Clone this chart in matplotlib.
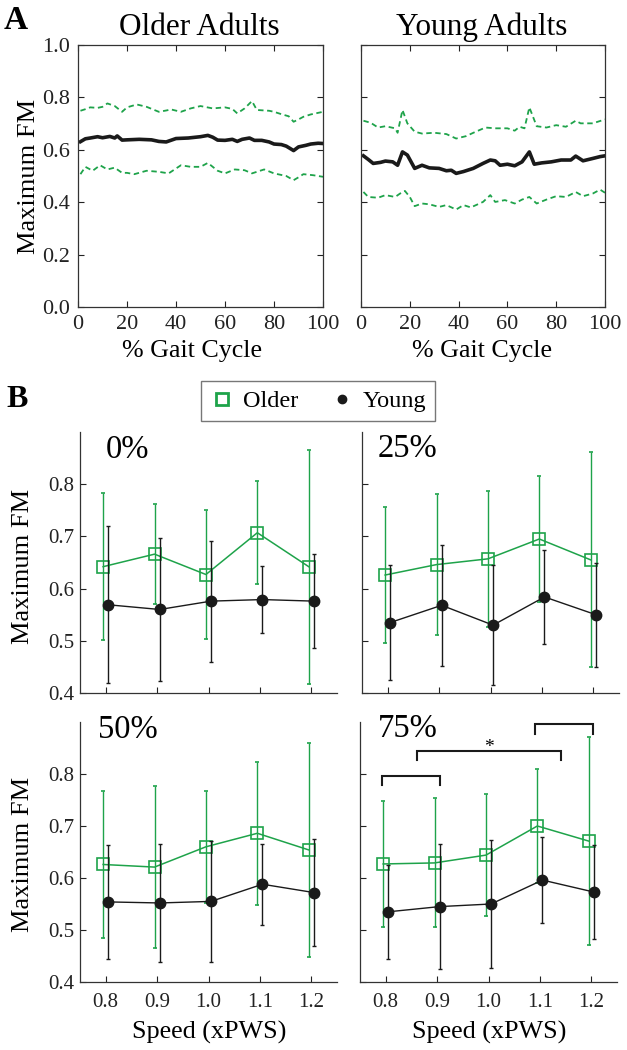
import matplotlib
matplotlib.use('Agg')
import matplotlib.pyplot as plt
from matplotlib.lines import Line2D
import numpy as np

plt.rcParams['font.family'] = ['Liberation Serif', 'DejaVu Serif']

GREEN = '#1ea34a'
DARK = '#1a1a1a'

# ---------- Panel A: maximum FM over the gait cycle ----------
old_mean_x = [1, 3, 5, 8, 10, 13, 15, 16, 18, 20, 25, 30, 33, 36, 40, 45, 50, 53, 55, 57,
              60, 63, 65, 67, 70, 72, 75, 78, 80, 83, 85, 88, 90, 93, 95, 98, 100]
old_mean = [0.631, 0.642, 0.645, 0.650, 0.646, 0.651, 0.645, 0.653, 0.637, 0.638, 0.640, 0.638,
            0.632, 0.630, 0.643, 0.645, 0.650, 0.655, 0.648, 0.637, 0.636, 0.640, 0.632, 0.640,
            0.645, 0.636, 0.636, 0.630, 0.622, 0.620, 0.614, 0.597, 0.611, 0.617, 0.622, 0.625, 0.624]

old_up_x = [1, 3, 5, 8, 10, 12, 15, 18, 20, 24, 28, 33, 36, 38, 42, 46, 50, 55, 60, 63, 65, 68,
            71, 73, 78, 80, 83, 86, 88, 90, 92, 95, 97, 100]
old_up = [0.749, 0.755, 0.762, 0.760, 0.764, 0.777, 0.767, 0.745, 0.762, 0.773, 0.764, 0.745,
          0.750, 0.754, 0.745, 0.758, 0.767, 0.758, 0.762, 0.756, 0.739, 0.758, 0.786, 0.752,
          0.749, 0.745, 0.736, 0.728, 0.707, 0.716, 0.726, 0.735, 0.739, 0.745]

old_lo_x = [1, 3, 6, 9, 12, 15, 16, 18, 20, 23, 28, 33, 37, 42, 46, 50, 53, 57, 60, 64, 68,
            71, 76, 80, 85, 88, 90, 92, 96, 100]
old_lo = [0.507, 0.535, 0.520, 0.541, 0.525, 0.532, 0.525, 0.512, 0.512, 0.507, 0.520, 0.516,
          0.510, 0.541, 0.535, 0.535, 0.550, 0.520, 0.510, 0.525, 0.522, 0.510, 0.525, 0.510,
          0.500, 0.484, 0.495, 0.507, 0.503, 0.497]

young_mean_x = [1, 3, 5, 8, 10, 13, 15, 17, 19, 22, 25, 28, 32, 35, 37, 39, 42, 46, 50, 53,
                55, 57, 60, 63, 66, 69, 71, 74, 78, 82, 86, 88, 91, 95, 98, 100]
young_mean = [0.577, 0.563, 0.548, 0.552, 0.557, 0.554, 0.541, 0.592, 0.580, 0.529, 0.541,
              0.531, 0.529, 0.520, 0.522, 0.510, 0.517, 0.529, 0.548, 0.561, 0.558, 0.541,
              0.545, 0.539, 0.554, 0.592, 0.545, 0.550, 0.554, 0.561, 0.561, 0.576, 0.558,
              0.567, 0.574, 0.577]

young_up_x = [1, 4, 7, 10, 14, 15, 17, 19, 22, 25, 30, 35, 39, 43, 47, 51, 55, 60, 63, 65, 67,
              69, 72, 76, 80, 84, 88, 90, 95, 100]
young_up = [0.711, 0.703, 0.685, 0.690, 0.682, 0.665, 0.752, 0.701, 0.669, 0.662, 0.665, 0.660,
            0.643, 0.652, 0.669, 0.685, 0.682, 0.682, 0.673, 0.688, 0.682, 0.762, 0.690, 0.685,
            0.694, 0.688, 0.711, 0.701, 0.701, 0.716]

young_lo_x = [1, 3, 7, 10, 14, 16, 18, 20, 22, 25, 28, 32, 35, 39, 42, 45, 50, 53, 55, 59, 63,
              66, 69, 72, 76, 80, 84, 88, 91, 95, 98, 100]
young_lo = [0.439, 0.420, 0.417, 0.427, 0.420, 0.433, 0.443, 0.420, 0.385, 0.395, 0.392, 0.382,
            0.389, 0.372, 0.389, 0.380, 0.401, 0.427, 0.401, 0.408, 0.395, 0.410, 0.420, 0.395,
            0.410, 0.423, 0.420, 0.439, 0.423, 0.433, 0.448, 0.436]

# ---------- Panel B: maximum FM vs walking speed ----------
speeds = np.array([0.8, 0.9, 1.0, 1.1, 1.2])
phases = ['0%', '25%', '50%', '75%']

older_fm = [
    [0.642, 0.666, 0.627, 0.707, 0.642],
    [0.626, 0.646, 0.657, 0.695, 0.655],
    [0.626, 0.621, 0.660, 0.686, 0.654],
    [0.627, 0.629, 0.644, 0.700, 0.671],
]
older_fm_sd = [
    [0.141, 0.096, 0.123, 0.099, 0.224],
    [0.130, 0.135, 0.130, 0.120, 0.206],
    [0.141, 0.156, 0.108, 0.138, 0.205],
    [0.122, 0.124, 0.118, 0.110, 0.200],
]
young_fm = [
    [0.569, 0.560, 0.576, 0.579, 0.576],
    [0.535, 0.568, 0.530, 0.584, 0.550],
    [0.554, 0.552, 0.555, 0.588, 0.572],
    [0.535, 0.545, 0.550, 0.596, 0.573],
]
young_fm_sd = [
    [0.150, 0.137, 0.116, 0.065, 0.090],
    [0.111, 0.116, 0.115, 0.090, 0.100],
    [0.110, 0.113, 0.116, 0.078, 0.103],
    [0.090, 0.120, 0.124, 0.083, 0.090],
]

W, H = 627, 1050
fig = plt.figure(figsize=(W / 100, H / 100), dpi=100)


def box(x0, y0, x1, y1):
    # pixel box -> figure fraction
    return [x0 / W, 1 - y1 / H, (x1 - x0) / W, (y1 - y0) / H]


def ftext(x, y, s, **kw):
    fig.text(x / W, 1 - y / H, s, **kw)


# Panel A axes
axA1 = fig.add_axes(box(78, 45, 323, 307))
axA2 = fig.add_axes(box(361, 45, 605, 307))
groups = [
    (axA1, old_mean_x, old_mean, old_up_x, old_up, old_lo_x, old_lo),
    (axA2, young_mean_x, young_mean, young_up_x, young_up, young_lo_x, young_lo),
]
for ax, mx, my, ux, uy, lx, ly in groups:
    ax.plot(ux, uy, color=GREEN, lw=1.3, dashes=(3, 2))
    ax.plot(lx, ly, color=GREEN, lw=1.3, dashes=(3, 2))
    ax.plot(mx, my, color=DARK, lw=2.6)
    ax.set_xlim(0, 100)
    ax.set_ylim(0, 1.0)
    ax.set_xticks([0, 20, 40, 60, 80, 100])
    ax.set_yticks([0.0, 0.2, 0.4, 0.6, 0.8, 1.0])
    ax.yaxis.set_major_formatter(plt.FormatStrFormatter('%.1f'))
    ax.tick_params(direction='in', top=True, right=True, length=4, width=0.8,
                   labelsize=16, pad=6, colors='#222222')
    for sp in ax.spines.values():
        sp.set_linewidth(0.9)
        sp.set_color('#333333')
axA2.set_yticklabels([])

ftext(199, 35, 'Older Adults', fontsize=22.5, ha='center', va='baseline')
ftext(482, 35, 'Young Adults', fontsize=22.5, ha='center', va='baseline')
ftext(29, 176, 'Maximum FM', fontsize=19, rotation=90, ha='center', va='center')
ftext(192, 351, '% Gait Cycle', fontsize=18.7, ha='center', va='center')
ftext(482, 351, '% Gait Cycle', fontsize=18.7, ha='center', va='center')
ftext(4, 29, 'A', fontsize=24, fontweight='bold', ha='left', va='baseline')

# Panel B axes
boxesB = [box(80, 432, 337, 693), box(362, 432, 619, 693),
          box(80, 722, 337, 982), box(360, 722, 617, 982)]
label_pos = [(106, 458), (378, 457), (98, 738), (378, 737)]
axesB = []
for i, b in enumerate(boxesB):
    ax = fig.add_axes(b)
    axesB.append(ax)
    ax.errorbar(speeds - 0.005, older_fm[i], yerr=older_fm_sd[i], color=GREEN,
                marker='s', ms=8.5, mfc='none', mec=GREEN, mew=1.2, lw=1.1,
                elinewidth=1.0, capsize=1.5, capthick=1.0, zorder=2)
    ax.errorbar(speeds + 0.005, young_fm[i], yerr=young_fm_sd[i], color=DARK,
                marker='o', ms=7.5, mfc=DARK, mec=DARK, lw=1.0,
                elinewidth=1.0, capsize=1.5, capthick=1.0, zorder=3)
    ax.set_xlim(0.75, 1.25)
    ax.set_ylim(0.4, 0.9)
    ax.set_xticks(speeds)
    ax.set_yticks([0.4, 0.5, 0.6, 0.7, 0.8])
    ax.xaxis.set_major_formatter(plt.FormatStrFormatter('%.1f'))
    ax.yaxis.set_major_formatter(plt.FormatStrFormatter('%.1f'))
    ax.spines['top'].set_visible(False)
    ax.spines['right'].set_visible(False)
    for sp in ('left', 'bottom'):
        ax.spines[sp].set_linewidth(0.9)
        ax.spines[sp].set_color('#333333')
    ax.tick_params(direction='in', length=4, width=0.8, labelsize=15, colors='#222222')
    ax.tick_params(axis='x', pad=8)
    ax.tick_params(axis='y', pad=4)
    if i in (0, 1):
        ax.set_xticklabels([])
    if i in (1, 3):
        ax.set_yticklabels([])
    lx, ly = label_pos[i]
    ftext(lx, ly, phases[i], fontsize=23.5, ha='left', va='baseline')

# significance brackets in the 75% panel
axS = axesB[3]
brackets = [(0.792, 0.906, 0.797), (0.861, 1.142, 0.845), (1.090, 1.203, 0.896)]
for x0, x1, yt in brackets:
    axS.plot([x0, x0, x1, x1], [yt - 0.019, yt, yt, yt - 0.019], color=DARK,
             lw=1.5, clip_on=False, solid_joinstyle='miter')
axS.text(1.0, 0.851, '*', fontsize=14, ha='center', va='center')

ftext(23.5, 566, 'Maximum FM', fontsize=19, rotation=90, ha='center', va='center')
ftext(23.5, 854, 'Maximum FM', fontsize=19, rotation=90, ha='center', va='center')
ftext(209, 1032, 'Speed (xPWS)', fontsize=18.8, ha='center', va='center')
ftext(489, 1032, 'Speed (xPWS)', fontsize=18.8, ha='center', va='center')
ftext(6, 407, 'B', fontsize=23, fontweight='bold', ha='left', va='baseline')

handles = [
    Line2D([], [], ls='none', marker='s', ms=8, mfc='none', mec=GREEN, mew=2.0),
    Line2D([], [], ls='none', marker='o', ms=6, mfc=DARK, mec=DARK),
]
leg = fig.legend(handles, ['Older', 'Young'], loc='center', ncol=2,
                 bbox_to_anchor=(318 / W, 1 - 401 / H), fontsize=17.5,
                 frameon=True, fancybox=False, edgecolor='#555555',
                 handlelength=1.0, handletextpad=0.35, columnspacing=1.3,
                 borderpad=0.35, borderaxespad=0)
leg.get_frame().set_linewidth(1.0)

fig.savefig('out.png', dpi=100)
